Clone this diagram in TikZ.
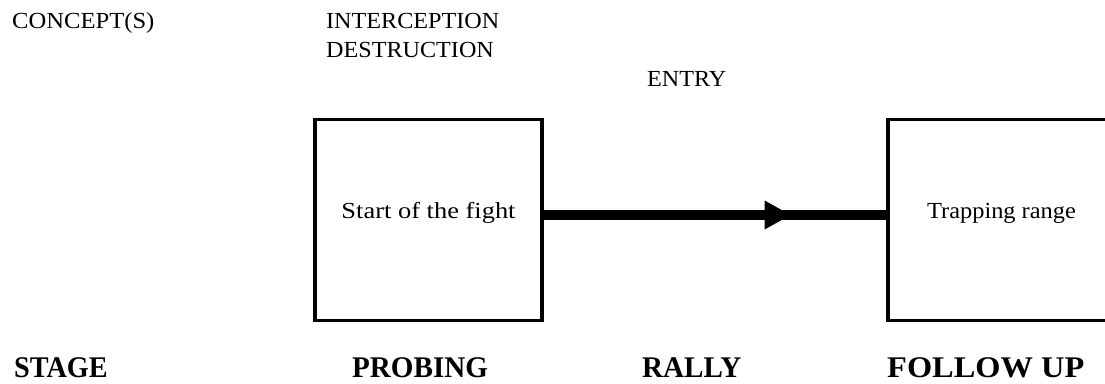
\documentclass[tikz,border=0pt]{standalone}
\usepackage{fontspec}
\setmainfont{Liberation Serif}
\usetikzlibrary{decorations.markings}
% horizontally stretched text
\newcommand\hs[2]{\scalebox{#1}[1]{#2}}
\begin{document}
\begin{tikzpicture}[x=1pt,y=-1pt,
  toptext/.style={font=\fontsize{23}{29}\selectfont, anchor=base west, inner sep=0pt},
  stagetext/.style={font=\fontsize{30}{36}\selectfont\bfseries, anchor=base west, inner sep=0pt},
  rangebox/.style={draw, line width=3.2pt, minimum width=227pt, minimum height=201pt,
    inner sep=0pt, font=\fontsize{23}{28}\selectfont, text height=16pt, text depth=20pt},
  link/.style={line width=10pt}]
\clip (0,0) rectangle (1105,383);
\fill[white] (0,0) rectangle (1105,383);

% concepts row
\node[toptext] (concepts) at (12,28) {\hs{1.07}{CONCEPT(S)}};
\node[toptext] (intercept) at (326,28) {\hs{1.05}{INTERCEPTION}};
\node[toptext] (destroy) at (326,57) {\hs{1.05}{DESTRUCTION}};
\node[toptext] (entry) at (647,86) {\hs{1.05}{ENTRY}};

% ranges
\node[rangebox] (start) at (428.5,220) {\hs{1.15}{Start of the fight}};
\node[rangebox] (trap) at (1001.5,220) {\hs{1.06}{Trapping range}};

% movement between ranges, a little above the box centres
\draw[link, postaction={decorate}, decoration={markings,
    mark=at position 247pt with {\fill (-26,-14.5) -- (0,0) -- (-26,14.5) -- cycle;}}]
  ([yshift=5pt]start.east) -- ([yshift=5pt]trap.west);

% stage row
\node[stagetext] (stage) at (14,377) {\hs{0.94}{STAGE}};
\node[stagetext] (probing) at (352,377) {\hs{0.97}{PROBING}};
\node[stagetext] (rally) at (642,377) {\hs{0.97}{RALLY}};
\node[stagetext] (followup) at (887,377) {\hs{1.08}{FOLLOW UP}};
\end{tikzpicture}
\end{document}
